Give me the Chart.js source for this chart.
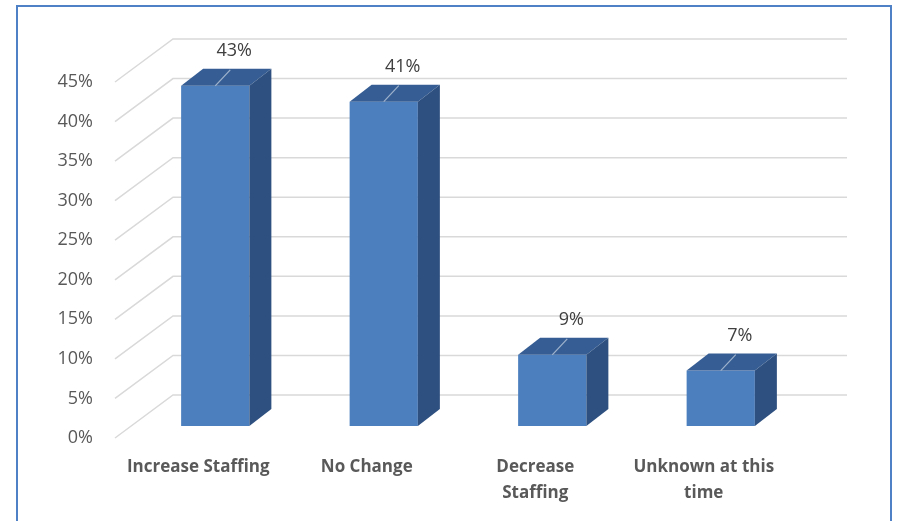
<!DOCTYPE html>
<html>
<head>
<meta charset="utf-8">
<script src="https://cdn.jsdelivr.net/npm/chart.js@4.4.1/dist/chart.umd.min.js"></script>
<style>
  html, body { margin: 0; padding: 0; background: #ffffff; }
  #wrap { position: relative; width: 899px; height: 521px; overflow: hidden; }
  #frame { position: absolute; left: 16px; top: 5px; width: 876px; height: 540px;
           border: 2px solid #4f81c7; box-sizing: border-box; }
  #chart { position: absolute; left: 0; top: 0; }
</style>
</head>
<body>
<div id="wrap">
  <div id="frame"></div>
  <canvas id="chart" width="899" height="521"></canvas>
</div>
<script>
// Survey answers: expected change in staffing
const categories = ['Increase Staffing', 'No Change', ['Decrease', 'Staffing'], ['Unknown at this', 'time']];
const shares = [43, 41, 9, 7];
const axisMin = 0;
const axisMax = 45;
const axisStep = 5;

// Oblique projection offsets (pixels) relative to the plane of the bar fronts
const FRONT_DX = -16, FRONT_DY = 12;   // front edge of the floor / side wall
const BACK_DX = 42, BACK_DY = -31;     // back wall
const BAR_DX = 22, BAR_DY = -17;       // depth of each column

const FACE = '#4c7fbd';
const TOP = '#365e94';
const SIDE = '#2e5080';
const TEXT = '#595959';

const wallsAndColumns = {
  id: 'wallsAndColumns',
  beforeDatasetsDraw(chart) {
    const { ctx, chartArea, scales } = chart;
    const y = scales.y;
    ctx.save();
    ctx.strokeStyle = '#d9d9d9';
    ctx.lineWidth = 1.5;
    y.ticks.forEach(t => {
      const py = y.getPixelForValue(t.value);
      ctx.beginPath();
      ctx.moveTo(chartArea.left + FRONT_DX, py + FRONT_DY);
      ctx.lineTo(chartArea.left + BACK_DX, py + BACK_DY);
      ctx.lineTo(chartArea.right + BACK_DX, py + BACK_DY);
      ctx.stroke();
    });
    ctx.restore();
  },
  afterDatasetsDraw(chart) {
    const { ctx } = chart;
    const meta = chart.getDatasetMeta(0);
    ctx.save();
    meta.data.forEach((bar, i) => {
      const p = bar.getProps(['x', 'y', 'base', 'width'], true);
      const x1 = p.x - p.width / 2, x2 = p.x + p.width / 2;
      // top face
      ctx.fillStyle = TOP;
      ctx.beginPath();
      ctx.moveTo(x1, p.y);
      ctx.lineTo(x1 + BAR_DX, p.y + BAR_DY);
      ctx.lineTo(x2 + BAR_DX, p.y + BAR_DY);
      ctx.lineTo(x2, p.y);
      ctx.closePath();
      ctx.fill();
      // right side face
      ctx.fillStyle = SIDE;
      ctx.beginPath();
      ctx.moveTo(x2, p.y);
      ctx.lineTo(x2 + BAR_DX, p.y + BAR_DY);
      ctx.lineTo(x2 + BAR_DX, p.base + BAR_DY);
      ctx.lineTo(x2, p.base);
      ctx.closePath();
      ctx.fill();
      // leader line to the value label
      ctx.strokeStyle = '#9fb2cc';
      ctx.lineWidth = 1.2;
      ctx.beginPath();
      ctx.moveTo(p.x, p.y);
      ctx.lineTo(p.x + 15, p.y - 16);
      ctx.stroke();
      // value label
      ctx.fillStyle = '#404040';
      ctx.font = '18px "Open Sans"';
      ctx.textAlign = 'center';
      ctx.textBaseline = 'middle';
      ctx.fillText(shares[i] + '%', p.x + 19, p.y - 35);
    });
    ctx.restore();
  }
};

new Chart(document.getElementById('chart'), {
  type: 'bar',
  data: {
    labels: categories,
    datasets: [{
      data: shares,
      backgroundColor: FACE,
      borderWidth: 0,
      categoryPercentage: 1.0,
      barPercentage: 0.405
    }]
  },
  options: {
    responsive: false,
    animation: false,
    events: [],
    layout: { padding: { left: 0, top: 70, right: 94, bottom: 0 } },
    plugins: { legend: { display: false }, tooltip: { enabled: false } },
    scales: {
      x: {
        grid: { display: false, drawTicks: false },
        border: { display: false },
        ticks: {
          color: TEXT,
          font: { family: 'Open Sans', size: 17, weight: '700', lineHeight: 1.53 },
          padding: 28,
          labelOffset: FRONT_DX - 1,
          maxRotation: 0,
          autoSkip: false
        },
        afterFit(scale) { scale.height = 95; }
      },
      y: {
        min: axisMin,
        max: axisMax,
        grid: { display: false, drawTicks: false },
        border: { display: false },
        ticks: {
          stepSize: axisStep,
          color: TEXT,
          font: { family: 'Open Sans', size: 18 },
          padding: 38,
          labelOffset: FRONT_DY,
          callback: v => v + '%'
        },
        afterFit(scale) { scale.width = 131; }
      }
    }
  },
  plugins: [wallsAndColumns]
});
</script>
</body>
</html>
